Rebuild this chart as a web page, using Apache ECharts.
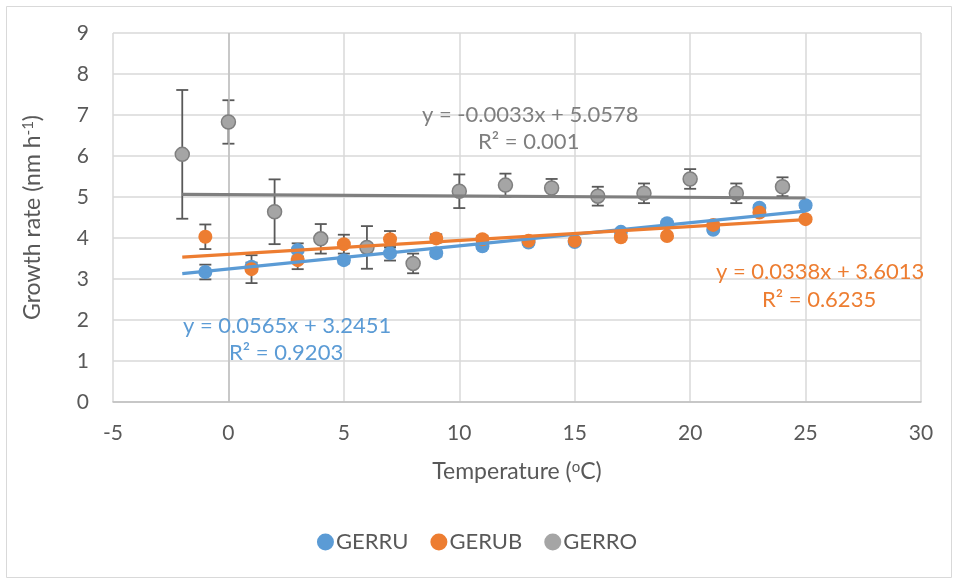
<!DOCTYPE html>
<html>
<head>
<meta charset="utf-8">
<script src="https://cdn.jsdelivr.net/npm/echarts@6/dist/echarts.min.js"></script>
<style>html,body{margin:0;padding:0;background:#fff}#c{width:954px;height:580px}</style>
</head>
<body>
<div id="c"></div>
<script>
// ---- data ----
const seriesNames = ['GERRU', 'GERUB', 'GERRO'];
const xRU = [-1, 1, 3, 5, 7, 9, 11, 13, 15, 17, 19, 21, 23, 25];
const yRU = [3.17, 3.30, 3.71, 3.46, 3.63, 3.63, 3.80, 3.89, 3.90, 4.15, 4.36, 4.20, 4.74, 4.80];
const eRU = [0.18, 0.10, 0.16, 0.08, 0.18, 0.08, 0.06, 0.05, 0.05, 0.05, 0.06, 0.06, 0.06, 0.06];
const xUB = [-1, 1, 3, 5, 7, 9, 11, 13, 15, 17, 19, 21, 23, 25];
const yUB = [4.03, 3.24, 3.46, 3.85, 3.97, 3.99, 3.97, 3.93, 3.93, 4.02, 4.05, 4.32, 4.62, 4.46];
const eUB = [0.30, 0.34, 0.22, 0.23, 0.20, 0.10, 0.08, 0.06, 0.06, 0.06, 0.06, 0.06, 0.06, 0.06];
const xRO = [-2, 0, 2, 4, 6, 8, 10, 12, 14, 16, 18, 20, 22, 24];
const yRO = [6.04, 6.83, 4.64, 3.98, 3.77, 3.38, 5.14, 5.29, 5.22, 5.02, 5.09, 5.44, 5.09, 5.25];
const eRO = [1.57, 0.53, 0.79, 0.36, 0.52, 0.24, 0.41, 0.28, 0.22, 0.23, 0.24, 0.24, 0.24, 0.23];
// trendline equations shown on the chart
const trendSlope = [0.0565, 0.0338, -0.0033];
const trendIntercept = [3.2451, 3.6013, 5.0578];
const trendRange = [-2, 25];
const eqText = ['y = 0.0565x + 3.2451', 'y = 0.0338x + 3.6013', 'y = -0.0033x + 5.0578'];
const r2Text = ['R² = 0.9203', 'R² = 0.6235', 'R² = 0.001'];
const xTicks = { min: -5, max: 30, interval: 5 };
const yTicks = { min: 0, max: 9, interval: 1 };

const colors = ['#5b9bd5', '#ed7d31', '#a5a5a5'];
const lineColors = ['#5b9bd5', '#ed7d31', '#7f7f7f'];
const borderColors = ['#5b9bd5', '#ed7d31', '#7f7f7f'];
const FONT = 'Lato, "Liberation Sans", sans-serif';
const TXT = '#595959';
const EQF = '22px ' + FONT;

const xs = [xRU, xUB, xRO], ys = [yRU, yUB, yRO], es = [eRU, eUB, eRO];

function errSeries(i) {
  return {
    type: 'custom', name: seriesNames[i] + '_err', z: 2, silent: true,
    data: xs[i].map((x, k) => [x, ys[i][k], es[i][k]]),
    encode: { x: 0, y: 1 },
    renderItem: function (params, api) {
      const x = api.value(0), y = api.value(1), e = api.value(2);
      const t = api.coord([x, y + e]), b = api.coord([x, y - e]);
      const w = 6;
      const st = { stroke: '#595959', lineWidth: 1.8 };
      return { type: 'group', children: [
        { type: 'line', shape: { x1: t[0], y1: t[1], x2: b[0], y2: b[1] }, style: st },
        { type: 'line', shape: { x1: t[0] - w, y1: t[1], x2: t[0] + w, y2: t[1] }, style: st },
        { type: 'line', shape: { x1: b[0] - w, y1: b[1], x2: b[0] + w, y2: b[1] }, style: st }
      ]};
    }
  };
}
function scatterSeries(i) {
  return {
    type: 'scatter', name: seriesNames[i], z: 3 + i,
    symbol: 'circle', symbolSize: 14,
    itemStyle: { color: colors[i], borderColor: borderColors[i], borderWidth: i === 2 ? 1.5 : 0, opacity: 1 },
    data: xs[i].map((x, k) => [x, ys[i][k]])
  };
}
function trendSeries(i) {
  return {
    type: 'line', name: seriesNames[i] + '_trend', z: 10, silent: true,
    symbol: 'none', lineStyle: { color: lineColors[i], width: 3.2 },
    data: trendRange.map(x => [x, trendSlope[i] * x + trendIntercept[i]])
  };
}

const series = [];
[0, 1, 2].forEach(i => series.push(errSeries(i)));
[0, 1, 2].forEach(i => series.push(scatterSeries(i)));
[0, 1, 2].forEach(i => series.push(trendSeries(i)));
// vertical axis line at x = 0
series[3].markLine = { silent: true, symbol: 'none', label: { show: false },
  lineStyle: { color: '#bfbfbf', width: 1.5, type: 'solid' }, data: [{ xAxis: 0 }] };

const chart = echarts.init(document.getElementById('c'));
chart.setOption({
  animation: false,
  backgroundColor: '#fff',
  textStyle: { fontFamily: FONT },
  grid: { left: 113, right: 33, top: 33, bottom: 178 },
  xAxis: {
    type: 'value', min: xTicks.min, max: xTicks.max, interval: xTicks.interval,
    axisLine: { show: true, lineStyle: { color: '#bfbfbf', width: 1.5 } },
    axisTick: { show: false },
    splitLine: { show: true, lineStyle: { color: '#d9d9d9', width: 1.5 } },
    axisLabel: { color: TXT, fontSize: 21, fontFamily: FONT, margin: 21 },
    name: '{a|Temperature (}{s|o}{a|C)}', nameLocation: 'middle', nameGap: 58,
    nameTextStyle: { rich: {
      a: { color: TXT, fontSize: 23, fontFamily: FONT },
      s: { color: TXT, fontSize: 15, fontFamily: FONT, verticalAlign: 'top', padding: [0, 0, 9, 0] }
    } }
  },
  yAxis: {
    type: 'value', min: yTicks.min, max: yTicks.max, interval: yTicks.interval,
    axisLine: { show: false }, axisTick: { show: false },
    splitLine: { show: true, lineStyle: { color: '#d9d9d9', width: 1.5 } },
    axisLabel: { color: TXT, fontSize: 21, fontFamily: FONT, margin: 24 },
    name: '{a|Growth rate (nm h}{s|-1}{a|)}', nameLocation: 'middle', nameGap: 68, nameRotate: 90,
    nameTextStyle: { rich: {
      a: { color: TXT, fontSize: 23, fontFamily: FONT },
      s: { color: TXT, fontSize: 15, fontFamily: FONT, verticalAlign: 'top', padding: [0, 0, 9, 0] }
    } }
  },
  legend: {
    data: seriesNames.map((n, i) => ({ name: n, icon: 'circle', itemStyle: { color: colors[i], borderWidth: 0 } })),
    bottom: 22, left: 'center', itemWidth: 17, itemHeight: 17, itemGap: 22,
    textStyle: { color: TXT, fontSize: 22, fontFamily: FONT, padding: [0, 0, 0, -3] }
  },
  graphic: { elements: [
    { type: 'rect', left: 4, top: 4, shape: { width: 945, height: 571 }, style: { fill: 'none', stroke: '#d9d9d9', lineWidth: 1 }, silent: true, z: -1 },
    { type: 'text', z: 100, left: 183, top: 315, style: { text: eqText[0], fill: '#5b9bd5', font: EQF } },
    { type: 'text', z: 100, left: 229, top: 342, style: { text: r2Text[0], fill: '#5b9bd5', font: EQF } },
    { type: 'text', z: 100, left: 716, top: 261, style: { text: eqText[1], fill: '#ed7d31', font: EQF } },
    { type: 'text', z: 100, left: 762, top: 289, style: { text: r2Text[1], fill: '#ed7d31', font: EQF } },
    { type: 'text', z: 100, left: 422, top: 104, style: { text: eqText[2], fill: '#7f7f7f', font: EQF } },
    { type: 'text', z: 100, left: 478, top: 131, style: { text: r2Text[2], fill: '#7f7f7f', font: EQF } }
  ] },
  series: series
});
</script>
</body>
</html>
